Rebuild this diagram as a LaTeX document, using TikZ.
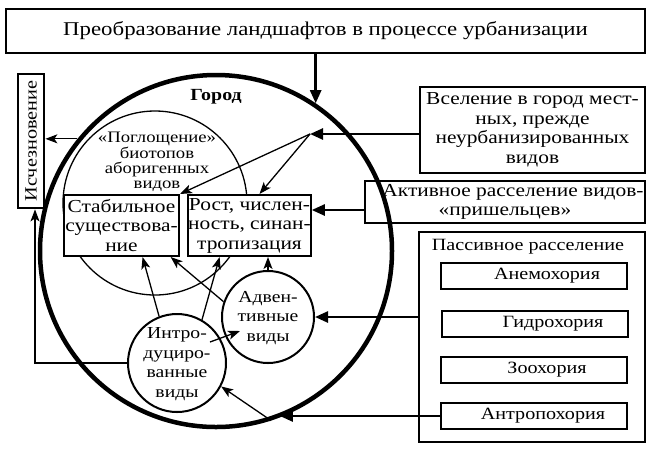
\documentclass[tikz,border=0pt]{standalone}
\usepackage{fontspec}
\setmainfont{Liberation Serif}[FakeStretch=1.17]
\usetikzlibrary{arrows.meta,calc}
\begin{document}
\begin{tikzpicture}[x=1pt,y=-1pt,
  txt/.style={font=\fontsize{18.3}{19.5}\selectfont, align=center, inner sep=0pt},
  smalltxt/.style={font=\fontsize{17.2}{19.5}\selectfont, align=center, inner sep=0pt},
  bigbox/.style={draw, line width=2.8pt, txt},
  midbox/.style={draw, line width=2pt, txt},
  subbox/.style={draw, line width=2pt, smalltxt, minimum width=186, minimum height=26},
  circ/.style={draw, circle, line width=2pt, inner sep=0pt},
  thickarrow/.style={line width=2.5pt, -{Triangle[length=13pt,width=11pt]}},
  thinarrow/.style={line width=1.3pt, -{Stealth[length=12pt,width=9pt,inset=3pt]}},
]
\useasboundingbox (0,0) rectangle (652,451);

% top box
\node[bigbox, minimum width=639, minimum height=44, font=\fontsize{19.5}{20}\selectfont] (top) at (325.5,31) {Преобразование ландшафтов в процессе урбанизации};

% city
\node[circle, draw, line width=4.5pt, minimum size=352, inner sep=0pt] (big) at (216,251) {};
\node[circle, draw, line width=1.3pt, minimum size=184, inner sep=0pt] (absorb) at (155,203) {};
\node[font=\fontsize{16}{15.3}\selectfont, align=center, inner sep=0pt] (abstext) at (157,162) {«Поглощение»\\биотопов\\аборигенных\\видов};
\node[font=\bfseries\fontsize{17}{17}\selectfont, inner sep=0pt] (gorod) at (216,97) {Город};

\node[midbox, fill=white, minimum width=115, minimum height=61] (stab) at (121.5,225.5) {Стабильное\\существова-\\ние};
\node[midbox, fill=white, minimum width=121, minimum height=61] (rost) at (249.5,225.5) {Рост, числен-\\ность, синан-\\тропизация};

\node[circ, minimum size=98] (intro) at (177,363) {};
\node[smalltxt, font=\fontsize{16.8}{19.5}\selectfont] (introtext) at (177,364) {Интро-\\дуциро-\\ванные\\виды};
\node[circ, minimum size=92] (adv) at (268,317) {};
\node[smalltxt, font=\fontsize{16.8}{19.5}\selectfont] (advtext) at (268,318) {Адвен-\\тивные\\виды};

% disappearance
\node[bigbox, minimum width=26, minimum height=134, font=\fontsize{17.3}{18}\selectfont] (isch) at (31,141) {\rotatebox{90}{Исчезновение}};

% right boxes
\node[bigbox, minimum width=225, minimum height=86] (vsel) at (532.5,130) {Вселение в город мест-\\ных, прежде\\неурбанизированных\\видов};
\node[bigbox, minimum width=280, minimum height=42] (akt) at (505,202) {\hspace*{16pt}Активное расселение видов-\\«пришельцев»};
\node[bigbox, minimum width=226, minimum height=210] (pass) at (532,337) {};
\node[smalltxt] (passtitle) at (528,247) {Пассивное расселение};
\node[subbox] (anem) at (534,275.5) {\hspace*{26pt}Анемохория};
\node[subbox] (gidr) at (535,324) {\hspace*{36pt}Гидрохория};
\node[subbox] (zoo) at (534,370) {\hspace*{26pt}Зоохория};
\node[subbox] (antr) at (534,416) {\hspace*{18pt}Антропохория};

% connectors
\draw[thickarrow] (top.south -| big.56.5) -- (big.56.5);
\draw[thinarrow] (big.141.5) -- (big.141.5 -| isch.east);
\draw[thinarrow] (intro.west) -| ([xshift=4pt]isch.south);

\coordinate (p) at (310,134);
\draw[thickarrow] (vsel.west |- p) -- (p);
\draw[thinarrow] (p) -- (stab.north east);
\draw[thinarrow] (p) -- ([xshift=10pt]rost.north);

\coordinate (ya) at (0,210);
\draw[thickarrow] (akt.west |- ya) -- (rost.east |- ya);
\draw[thickarrow] (pass.west |- adv.east) -- (adv.east);
\draw[thickarrow] (antr.west) -- (antr.west -| big.-69.7);

\draw[thinarrow] (big.-72) -- (intro.-28);
\draw[thinarrow] (intro.111) -- ($(stab.south west)!0.68!(stab.south east)$);
\draw[thinarrow] (intro.60) -- ($(rost.south west)!0.26!(rost.south east)$);
\draw[thinarrow] (adv.161.5) -- ($(stab.south west)!0.92!(stab.south east)$);
\draw[thinarrow] (adv.north) -- (adv.north |- rost.south);
\coordinate (ia1) at (210,342);
\coordinate (ia2) at (240,331);
\draw[thinarrow] (ia1) -- (ia2);
\end{tikzpicture}
\end{document}
